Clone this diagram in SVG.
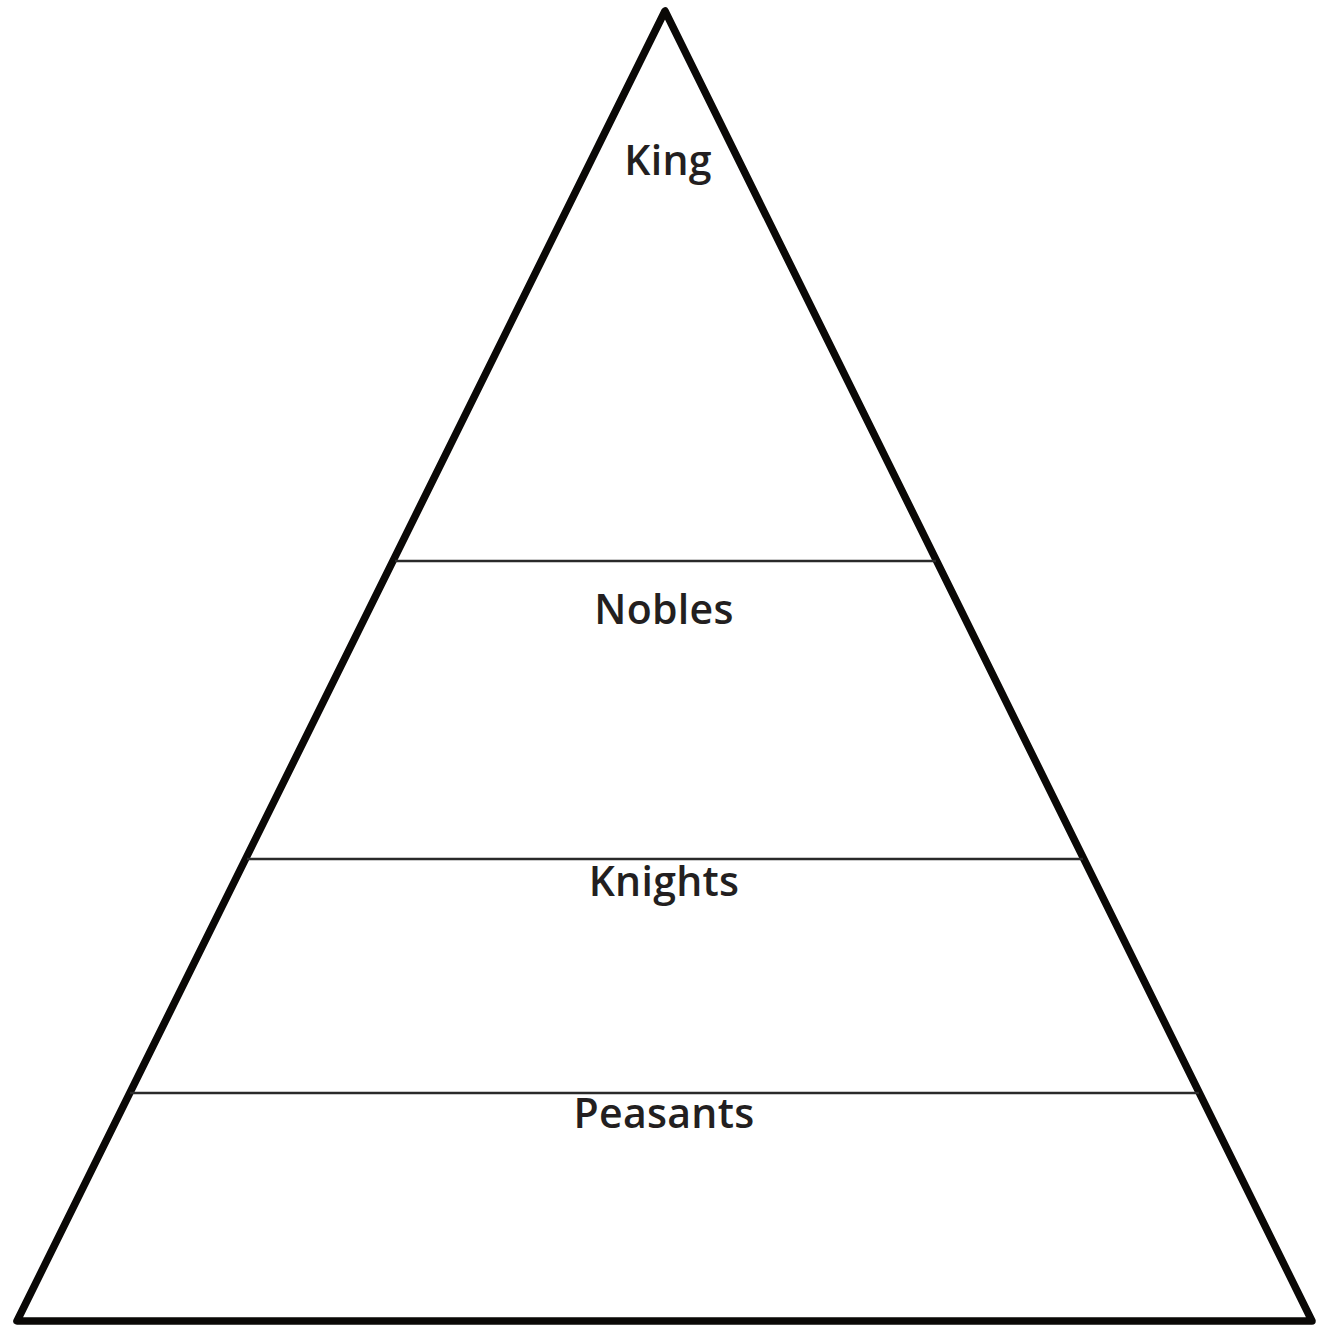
<svg xmlns="http://www.w3.org/2000/svg" width="1328" height="1332" viewBox="0 0 1328 1332">
<style>
.outline{fill:none;stroke:#0a0806;stroke-width:7.5;stroke-linejoin:round}
.div{stroke:#2a2a2a;stroke-width:2.4}
.lbl{font-family:"Open Sans",sans-serif;font-size:41px;font-weight:600;fill:#231f20;text-anchor:middle;letter-spacing:0.3px}
</style>
<rect width="1328" height="1332" fill="#fff"/>
<g id="pyramid">
<polygon class="outline" points="665,11 17,1321 1312,1321"/>
</g>
<g id="connectors">
<line class="div" x1="395" y1="561" x2="936" y2="561"/>
<line class="div" x1="247" y1="859" x2="1083" y2="859"/>
<line class="div" x1="130" y1="1093" x2="1199" y2="1093"/>
</g>
<g id="king"><text class="lbl" x="668" y="175">King</text></g>
<g id="nobles"><text class="lbl" x="664" y="624">Nobles</text></g>
<g id="knights"><text class="lbl" x="664" y="896">Knights</text></g>
<g id="peasants"><text class="lbl" x="664" y="1128">Peasants</text></g>
</svg>
